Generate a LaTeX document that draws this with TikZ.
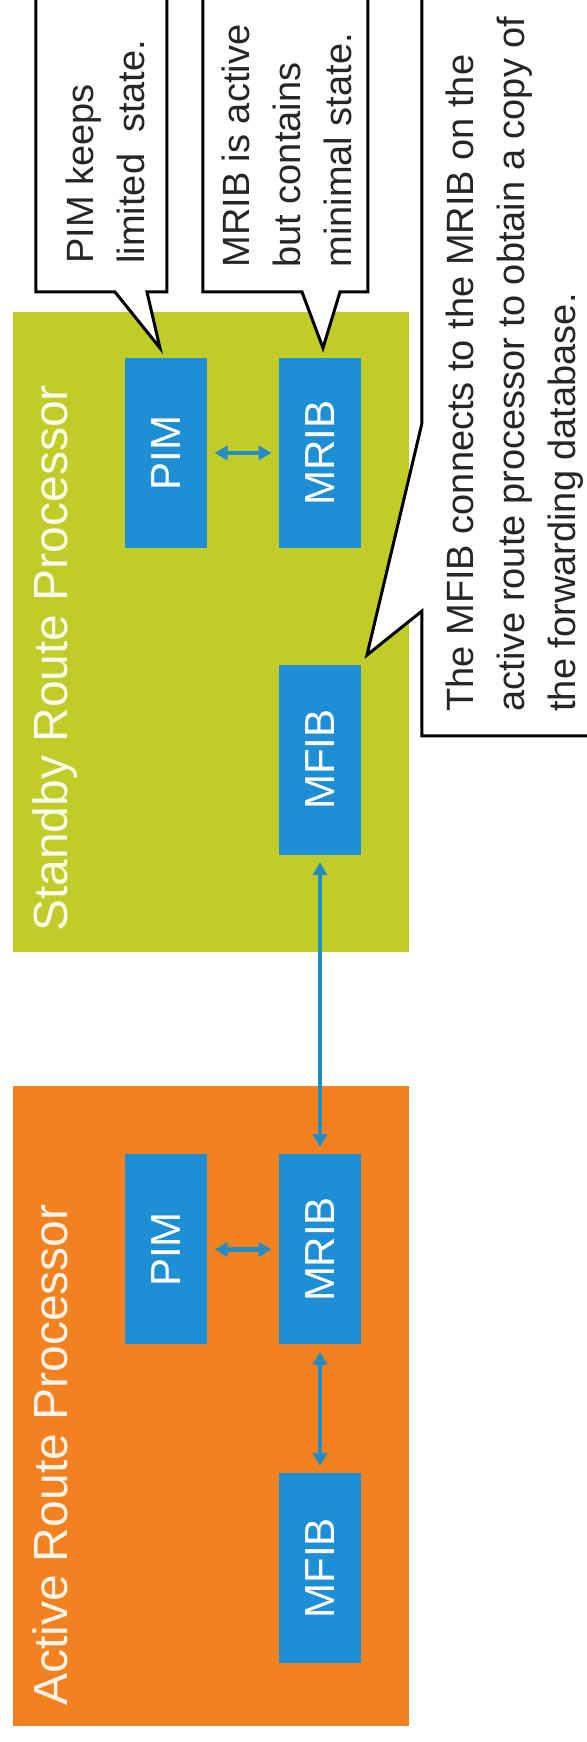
\documentclass[tikz,border=0pt]{standalone}
\usepackage{fontspec}
\setmainfont{Liberation Sans}
\usetikzlibrary{positioning, arrows.meta}

\definecolor{activeorange}{RGB}{242,130,31}
\definecolor{standbygreen}{RGB}{192,204,40}
\definecolor{moduleblue}{RGB}{30,143,213}
\definecolor{linkblue}{RGB}{35,140,195}

\begin{document}
\begin{tikzpicture}[
    rotate=90, transform shape, x=0.5pt, y=0.5pt,
    processor/.style={
        rectangle, inner sep=0pt, minimum width=320pt, minimum height=198pt
    },
    title/.style={
        inner sep=0pt, font=\fontsize{24}{29}\selectfont
    },
    module/.style={
        rectangle, fill=moduleblue, text=white, inner sep=0pt,
        minimum width=95pt, minimum height=41pt,
        font=\fontsize{21}{25}\selectfont
    },
    balloon/.style={draw=black, fill=white, line width=1.5pt, line join=miter},
    note/.style={
        inner sep=0pt, align=left, text=black!85, anchor=west,
        font=\fontsize{19}{25.5}\selectfont
    },
    link/.style={
        draw=linkblue, line width=2.2pt, shorten <=3.5pt, shorten >=3.5pt,
        {Triangle[width=7pt,length=6.5pt]}-{Triangle[width=7pt,length=6.5pt]}
    }
]

\useasboundingbox (0,0) rectangle (1742,587);
\fill [white] (0,0) rectangle (1742,587);
\clip (0,0) rectangle (1742,587);

%% Route processors
\node (active)  [processor, fill=activeorange] at (336,376) {};
\node (standby) [processor, fill=standbygreen] at (1110,376) {};
\node (activetitle)  [title, text=white!90!activeorange,
    below right=10pt and 10pt of active.north west] {Active Route Processor};
\node (standbytitle) [title, text=white!90!standbygreen,
    below right=10pt and 10pt of standby.north west] {Standby Route Processor};

%% Modules
\node (amrib) [module] at (492.5,267) {MRIB};
\node (apim)  [module, above=35.5pt of amrib] {PIM};
\node (amfib) [module, left=64pt of amrib] {MFIB};
\node (smfib) [module, right=149.5pt of amrib] {MFIB};
\node (smrib) [module, right=58pt of smfib] {MRIB};
\node (spim)  [module, above=35.5pt of smrib] {PIM};

%% Links
\draw [link] (apim) -- (amrib);
\draw [link] (amrib) -- (amfib);
\draw [link] (amrib) -- (smfib);
\draw [link] (spim) -- (smrib);

%% Callouts
\draw [balloon] (1800,551) -- (1450,551) -- (1450,472) -- (1394,427)
    -- (1450,440) -- (1450,420) -- (1800,420);
\draw [balloon] (1800,384) -- (1450,384) -- (1450,285) -- (1394,264)
    -- (1450,247) -- (1450,219) -- (1800,219);
\draw [balloon] (1006,-50) -- (1006,165) -- (1131,165) -- (1087,220)
    -- (1319,165) -- (1800,165);

\node (pimnote)  [note] at (1478,482) {PIM keeps\\limited~~state.};
\node (mribnote) [note] at (1474,300) {MRIB is active\\but contains\\minimal state.};
\node (mfibnote) [note] at (1030,72)
    {The MFIB connects to the MRIB on the\\active route processor to obtain a copy of\\the forwarding database.};

\end{tikzpicture}
\end{document}
